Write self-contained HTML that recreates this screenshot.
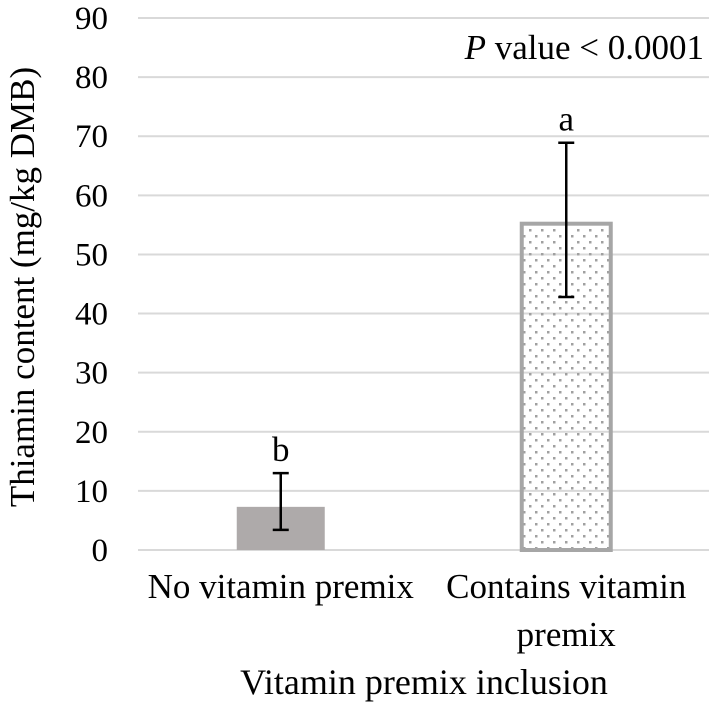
<!DOCTYPE html>
<html><head><meta charset="utf-8"><style>
body{margin:0;background:#fff}
svg{display:block;font-family:"Liberation Serif",serif}
</style></head><body>
<svg id="c" width="709" height="705">
<defs>
<pattern id="dots" width="12" height="12" patternUnits="userSpaceOnUse">
<rect x="1" y="1" width="2.5" height="2.5" fill="#a0a0a0"/>
<rect x="7" y="7" width="2.5" height="2.5" fill="#a0a0a0"/>
</pattern>
</defs>
</svg>
<script>
const categories=["No vitamin premix","Contains vitamin premix"];
const values=[7.3,55.2];
const errLow=[3.4,42.8];
const errHigh=[13.0,68.9];
const letters=["b","a"];
const ticks=[0,10,20,30,40,50,60,70,80,90];
const svg=document.getElementById('c');
const NS="http://www.w3.org/2000/svg";
const y0=550,y1=18,vmax=90;
const y=v=>y0-(v/vmax)*(y0-y1);
const x0=138,x1=709,bandW=(x1-x0)/categories.length;
const xc=i=>x0+bandW*(i+0.5);
function mk(t,a,txt){const e=document.createElementNS(NS,t);for(const k in a)e.setAttribute(k,a[k]);if(txt!==undefined)e.textContent=txt;svg.appendChild(e);return e;}
ticks.forEach(t=>{
 const g=mk('line',{x1:x0,x2:x1,y1:y(t),y2:y(t),stroke:'#d9d9d9','stroke-width':2});
 
 
 const l=mk('text',{x:108,y:y(t)+11,'text-anchor':'end','font-size':33,fill:'#000'},t);
 
 
});
categories.forEach((c,i)=>{
 const w=i===0?88:89;
 let b;
 if(i===0){b=mk('rect',{x:xc(i)-w/2,y:y(values[i]),width:w,height:y0-y(values[i]),fill:'#aeaaaa'});}
 else{b=mk('rect',{x:xc(i)-w/2,y:y(values[i]),width:w,height:y0-y(values[i]),fill:'url(#dots)',stroke:'#a6a6a6','stroke-width':4});}
 
 
 const cx=xc(i);
 const e=mk('path',{d:`M${cx},${y(errHigh[i])}V${y(errLow[i])}M${cx-8},${y(errHigh[i])}H${cx+8}M${cx-8},${y(errLow[i])}H${cx+8}`,stroke:'#000','stroke-width':2.5,fill:'none'});
 
 
 const s=mk('text',{x:cx,y:y(errHigh[i])-12,'text-anchor':'middle','font-size':35},letters[i]);
 
 
});
const l1=mk('text',{x:xc(0),y:598,'text-anchor':'middle','font-size':35},categories[0]);


const l2=mk('text',{x:xc(1),y:598,'text-anchor':'middle','font-size':35},'Contains vitamin');


const l3=mk('text',{x:xc(1),y:646,'text-anchor':'middle','font-size':35},'premix');


const xt=mk('text',{x:424,y:694,'text-anchor':'middle','font-size':36},'Vitamin premix inclusion');


const yt=mk('text',{x:0,y:0,'text-anchor':'middle','font-size':35,transform:'translate(34,287) rotate(-90)'},'Thiamin content (mg/kg DMB)');


const pv=mk('text',{x:704,y:59,'text-anchor':'end','font-size':35});
pv.innerHTML='<tspan font-style="italic">P</tspan> value &lt; 0.0001';


</script>
</body></html>
